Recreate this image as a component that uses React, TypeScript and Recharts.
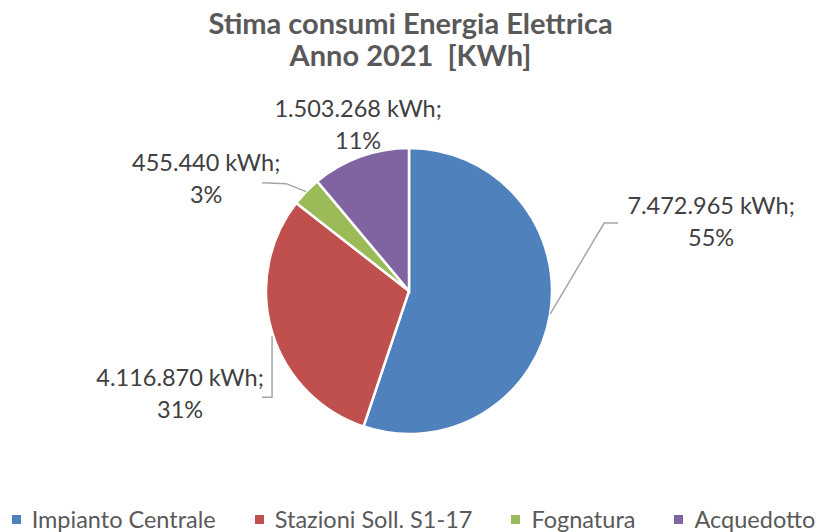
import { Cell, Legend, Pie, PieChart } from 'recharts'

const categories = ['Impianto Centrale', 'Stazioni Soll. S1-17', 'Fognatura', 'Acquedotto']
const consumi = [7472965, 4116870, 455440, 1503268]
const percentLabels = ['55%', '31%', '3%', '11%']
const colors = ['#4F81BD', '#C0504D', '#9BBB59', '#8064A2']

const data = categories.map((name, i) => ({ name, value: consumi[i] }))

// label placement relative to the slice's outer edge point
const labelLayout = [
  { tx: 161, ty: -100, leader: [[0, 0], [54, -91], [68, -91]] },
  { tx: -92, ty: 54, leader: [[0, 4], [0, 65], [-10, 65]] },
  { tx: -100, ty: -21, leader: [[0, 0], [-20, -8], [-44, -9]] },
  { tx: -2, ty: -40, leader: [] as number[][] },
]

const RADIAN = Math.PI / 180
const FONT = 'Lato, "Open Sans", sans-serif'

const fmt = (v: number) => String(v).replace(/\B(?=(\d{3})+(?!\d))/g, '.')

function renderLabel(props: any) {
  const { cx, cy, midAngle, outerRadius, index, value } = props
  const ex = cx + outerRadius * Math.cos(-midAngle * RADIAN)
  const ey = cy + outerRadius * Math.sin(-midAngle * RADIAN)
  const l = labelLayout[index]
  const pts = l.leader.map(([dx, dy]) => `${ex + dx},${ey + dy}`).join(' ')
  return (
    <g key={`lbl-${index}`}>
      {l.leader.length > 0 && (
        <polyline points={pts} fill="none" stroke="#A6A6A6" strokeWidth={1.5} />
      )}
      <text
        x={ex + l.tx}
        y={ey + l.ty}
        textAnchor="middle"
        fill="#404040"
        fontFamily={FONT}
        fontSize={23.5}
      >
        <tspan x={ex + l.tx}>{`${fmt(value)} kWh;`}</tspan>
        <tspan x={ex + l.tx} dy={32}>
          {percentLabels[index]}
        </tspan>
      </text>
    </g>
  )
}

function LegendContent() {
  return (
    <div
      style={{
        display: 'flex',
        justifyContent: 'center',
        gap: 39,
        fontFamily: FONT,
        fontSize: 23.5,
        lineHeight: '24px',
        color: '#595959',
        whiteSpace: 'nowrap',
        paddingLeft: 6,
      }}
    >
      {categories.map((c, i) => (
        <div key={c} style={{ display: 'flex', alignItems: 'center' }}>
          <span
            style={{
              width: 9,
              height: 9,
              background: colors[i],
              marginRight: 11,
              display: 'inline-block',
            }}
          />
          <span>{c}</span>
        </div>
      ))}
    </div>
  )
}

export default function App() {
  return (
    <div style={{ position: 'absolute', left: 0, top: 0, width: 821, height: 532, background: '#fff' }}>
      <div
        style={{
          position: 'absolute',
          top: 7,
          left: 0,
          width: 821,
          textAlign: 'center',
          fontFamily: FONT,
          fontWeight: 700,
          fontSize: 29,
          lineHeight: '32px',
          color: '#595959',
          whiteSpace: 'pre',
        }}
      >
        {'Stima consumi Energia Elettrica\nAnno 2021  [KWh]'}
      </div>
      <PieChart width={821} height={532} margin={{ top: 0, right: 0, bottom: 0, left: 0 }}>
        <Pie
          data={data}
          dataKey="value"
          nameKey="name"
          cx={409}
          cy={291}
          outerRadius={143}
          startAngle={90}
          endAngle={-270}
          stroke="#fff"
          strokeWidth={2.5}
          label={renderLabel}
          labelLine={false}
          isAnimationActive={false}
        >
          {data.map((d, i) => (
            <Cell key={d.name} fill={colors[i]} />
          ))}
        </Pie>
        <Legend
          content={<LegendContent />}
          wrapperStyle={{ position: 'absolute', left: 0, top: 507, width: 821 }}
        />
      </PieChart>
    </div>
  )
}
